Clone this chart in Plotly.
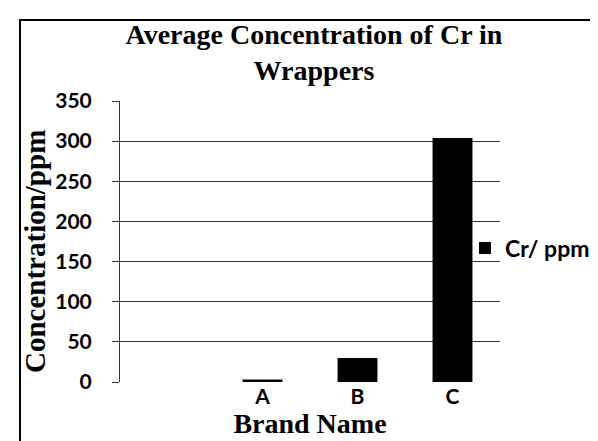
import plotly.graph_objects as go

categories = [" ", "A", "B", "C"]
cr_ppm = [None, 3, 30, 304]
y_ticks = [0, 50, 100, 150, 200, 250, 300, 350]

W, H = 598, 441
L, R, T, B = 112, 106, 93, 67

fig = go.Figure()
fig.add_trace(go.Bar(
    x=categories, y=cr_ppm, name="Cr/ ppm",
    marker=dict(color="#000000", line=dict(color="#000000", width=0)),
))

pw = W - L - R
ph = H - T - B
def px_x(p):
    return (p - L) / pw
def px_y(p):
    return (H - B - p) / ph

serif = "Liberation Serif"
sans = "Lato"

fig.update_layout(
    width=W, height=H,
    margin=dict(l=L, r=R, t=T, b=B, autoexpand=False),
    paper_bgcolor="white", plot_bgcolor="white",
    bargap=0.58,
    title=dict(
        text="Average Concentration of Cr in<br>Wrappers",
        font=dict(family=serif, size=28, color="black", weight="bold"),
        x=(306 - L) / pw, xref="paper", xanchor="center",
        y=1 - 36 / H, yref="container", yanchor="middle",
    ),
    xaxis=dict(
        type="category", categoryorder="array", categoryarray=categories,
        showgrid=False, showline=False, ticks="",
        tickfont=dict(family=sans, size=21, color="black", weight="bold"),
        title=dict(text="Brand Name", standoff=0,
                   font=dict(family=serif, size=28, color="black", weight="bold")),
    ),
    yaxis=dict(
        range=[0, 350], tickvals=y_ticks, ticks="outside", ticklen=7,
        tickcolor="#333", showline=True, linecolor="#333", linewidth=1,
        showgrid=True, gridcolor="#333", gridwidth=1, zeroline=False,
        ticklabelstandoff=16,
        tickfont=dict(family=sans, size=21, color="black", weight="bold"),
    ),
    legend=dict(
        x=px_x(457), y=px_y(240), xanchor="left", yanchor="middle",
        bgcolor="rgba(0,0,0,0)",
        font=dict(family=sans, size=23, color="black", weight="bold"),
        itemwidth=30,
    ),
    showlegend=True,
)

# y-axis title placed as in the reference
fig.add_annotation(
    text="Concentration/ppm", textangle=-90, showarrow=False,
    xref="paper", yref="paper", x=px_x(27), y=px_y(244),
    xanchor="center", yanchor="middle",
    font=dict(family=serif, size=29, color="black", weight="bold"),
)

# outer chart border (partly outside the photographed window)
fig.add_shape(type="rect", xref="paper", yref="paper",
              x0=px_x(12), x1=px_x(640), y0=px_y(480), y1=px_y(12),
              line=dict(color="black", width=2), fillcolor="rgba(0,0,0,0)", layer="below")

fig.write_html("out.html")
